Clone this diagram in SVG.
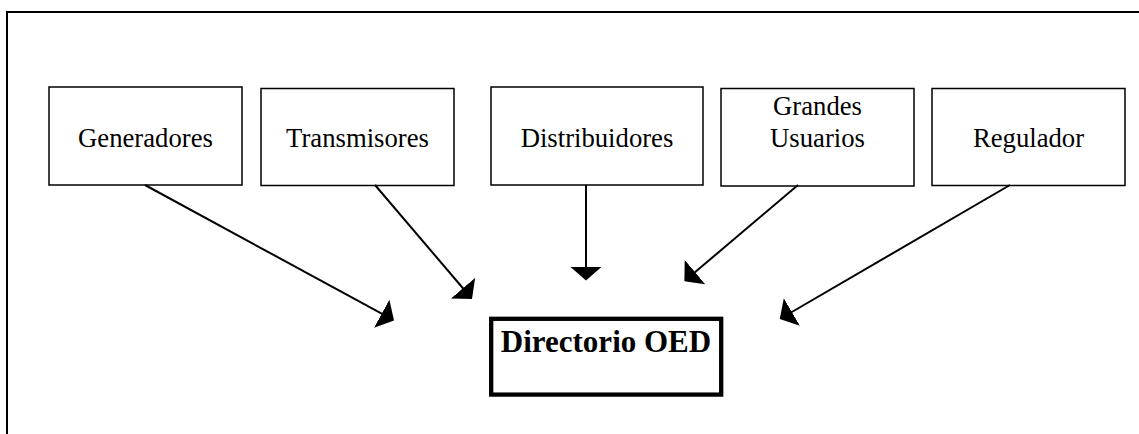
<svg xmlns="http://www.w3.org/2000/svg" width="1139" height="434" viewBox="0 0 1139 434">
  <style>
    .box { fill: #ffffff; stroke: #000000; stroke-width: 1.5; }
    .main { fill: #ffffff; stroke: #000000; stroke-width: 4.3; }
    .lbl { font-family: "Liberation Serif", "Times New Roman", serif; font-size: 26.7px; fill: #000000; text-anchor: middle; }
    .title { font-family: "Liberation Serif", "Times New Roman", serif; font-size: 31px; font-weight: bold; fill: #000000; text-anchor: middle; }
    .link { fill: none; stroke: #000000; stroke-width: 2; }
  </style>
  <defs>
    <marker id="head" markerUnits="userSpaceOnUse" viewBox="0 -16 14 32" refX="1" refY="0" markerWidth="14" markerHeight="32" orient="auto">
      <path d="M0,-16 L14,0 L0,16 Z" fill="#000000"/>
    </marker>
  </defs>

  <rect width="1139" height="434" fill="#ffffff"/>

  <!-- outer frame (open on right and bottom) -->
  <polyline points="7,434 7,12 1139,12" fill="none" stroke="#000000" stroke-width="2"/>

  <g id="generadores">
    <rect class="box" x="49" y="87" width="193" height="98"/>
    <text class="lbl" x="145.5" y="146.7">Generadores</text>
  </g>

  <g id="transmisores">
    <rect class="box" x="261" y="88.5" width="193" height="97"/>
    <text class="lbl" x="357.5" y="146.7">Transmisores</text>
  </g>

  <g id="distribuidores">
    <rect class="box" x="491" y="87" width="212" height="98"/>
    <text class="lbl" x="597" y="146.7">Distribuidores</text>
  </g>

  <g id="grandes-usuarios">
    <rect class="box" x="721" y="88.5" width="193" height="97.5"/>
    <text class="lbl" x="817.5" y="115">Grandes</text>
    <text class="lbl" x="817.5" y="146.7">Usuarios</text>
  </g>

  <g id="regulador">
    <rect class="box" x="932" y="88.5" width="193" height="97"/>
    <text class="lbl" x="1028.5" y="146.7">Regulador</text>
  </g>

  <g id="directorio-oed">
    <rect class="main" x="491.2" y="318.8" width="230" height="75.8"/>
    <text class="title" x="606" y="351.7">Directorio OED</text>
  </g>

  <g id="connectors">
    <line class="link" x1="145" y1="185" x2="382.6" y2="314.2" marker-end="url(#head)"/>
    <line class="link" x1="375" y1="185" x2="463.6" y2="289" marker-end="url(#head)"/>
    <line class="link" x1="586" y1="185" x2="586" y2="267.5" marker-end="url(#head)"/>
    <line class="link" x1="798" y1="185" x2="694.3" y2="272.8" marker-end="url(#head)"/>
    <line class="link" x1="1010" y1="185" x2="791" y2="312.5" marker-end="url(#head)"/>
  </g>
</svg>
